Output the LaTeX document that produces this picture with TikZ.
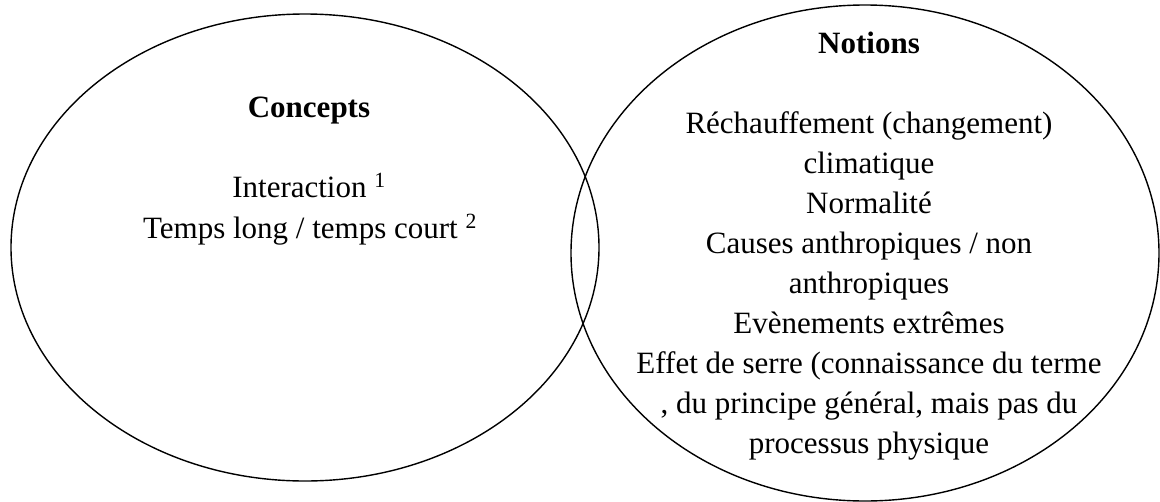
\documentclass[tikz,border=0pt]{standalone}
\usepackage{fontspec}
\setmainfont{Liberation Serif}
\newfontfamily\tnr{Liberation Serif}
\usetikzlibrary{shapes.geometric}
\tikzset{
  venn/.style={ellipse, draw, line width=1.4pt, inner sep=0pt, outer sep=0pt},
  txt/.style={anchor=base, inner sep=0pt, font=\tnr\fontsize{31}{40}\selectfont},
  ttl/.style={anchor=base, inner sep=0pt, font=\tnr\fontsize{31}{40}\selectfont\bfseries}
}
\begin{document}
\begin{tikzpicture}[x=1pt,y=-1pt]
\useasboundingbox (0,0) rectangle (1160,501);
\node[venn, minimum width=588pt, minimum height=467pt] (left) at (305,247.5) {};
\node[venn, minimum width=588pt, minimum height=496pt] (right) at (865,253) {};
\node[ttl] (concepts) at (309,117) {Concepts};
\node[txt] (c1) at (309,197) {Interaction \textsuperscript{1}};
\node[txt] (c2) at (310,238) {Temps long / temps court \textsuperscript{2}};
\node[ttl] (notions) at (869,53) {Notions};
\foreach \t [count=\i] in {Réchauffement (changement),climatique,Normalité,Causes anthropiques / non,anthropiques,Evènements extrêmes,Effet de serre (connaissance du terme,{, du principe général, mais pas du},processus physique}
  \node[txt] (n\i) at (869,93+40*\i) {\t};
\end{tikzpicture}
\end{document}
